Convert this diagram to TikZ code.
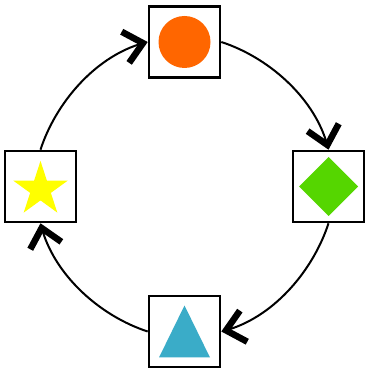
\documentclass[tikz,border=0pt]{standalone}
\usetikzlibrary{arrows.meta,bending}
\definecolor{cOrange}{RGB}{255,102,0}
\definecolor{cGreen}{RGB}{85,214,0}
\definecolor{cYellow}{RGB}{255,255,0}
\definecolor{cBlue}{RGB}{58,172,200}
\begin{document}
\begin{tikzpicture}[x=1pt,y=1pt,
  box/.style={draw,line width=2.6pt,minimum size=71pt,inner sep=0pt,fill=white},
  conn/.style={line width=2pt,-{Straight Barb[length=18pt,width=32pt,line width=6.5pt]},looseness=0.86}]
\useasboundingbox (0,0) rectangle (364,369);
\node[box] (top) at (184.5,327) {};
\node[box] (right) at (328.5,182.5) {};
\node[box] (bottom) at (184.5,37.5) {};
\node[box] (left) at (40.5,182.5) {};
\fill[cOrange] (top.center) circle (26pt);
\fill[cGreen] ([yshift=29.5pt]right.center) -- ([xshift=29.5pt]right.center) -- ([yshift=-29.5pt]right.center) -- ([xshift=-29.5pt]right.center) -- cycle;
\fill[cYellow] ([yshift=-3pt]left.center) +(90:28.6pt) -- +(126:10.9pt) -- +(162:28.6pt) -- +(198:10.9pt) -- +(234:28.6pt) -- +(270:10.9pt) -- +(306:28.6pt) -- +(342:10.9pt) -- +(18:28.6pt) -- +(54:10.9pt) -- cycle;
\fill[cBlue] ([yshift=26pt]bottom.center) -- ([shift={(25.5pt,-26pt)}]bottom.center) -- ([shift={(-25.5pt,-26pt)}]bottom.center) -- cycle;
\draw[conn] (top.east) to[out=-18,in=103] (right.north);
\draw[conn] (right.south) to[out=-108,in=13] (bottom.east);
\draw[conn] (bottom.west) to[out=162,in=-77] (left.south);
\draw[conn] (left.north) to[out=72,in=193] (top.west);
\end{tikzpicture}
\end{document}
